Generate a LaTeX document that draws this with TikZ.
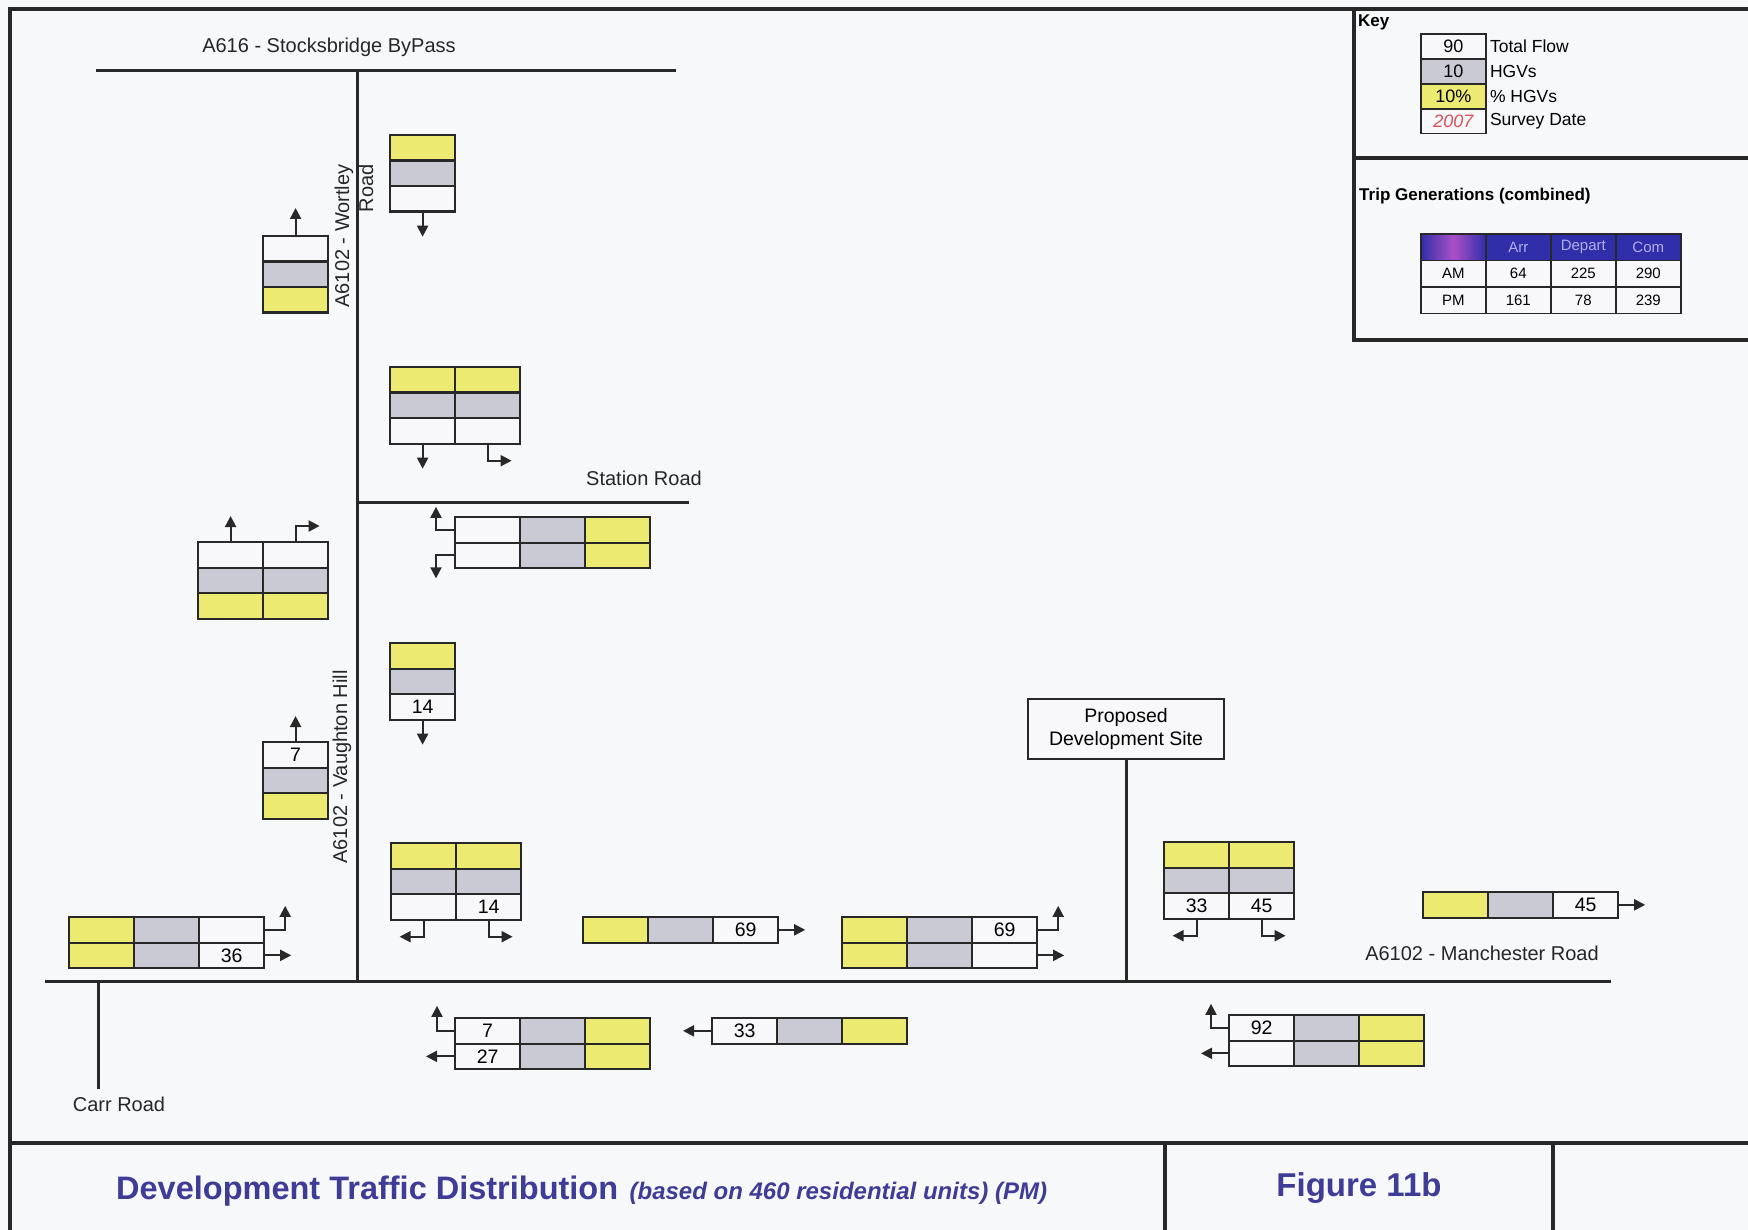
\documentclass[tikz,border=0pt]{standalone}
\usepackage{fontspec}
\setmainfont{Liberation Sans}
\usetikzlibrary{arrows.meta}
\definecolor{yel}{RGB}{236,234,112}
\definecolor{gry}{RGB}{202,202,212}
\definecolor{wht}{RGB}{248,248,250}
\definecolor{linec}{RGB}{40,40,40}
\definecolor{bg}{RGB}{247,248,250}
\definecolor{ttl}{RGB}{62,60,150}
\definecolor{hdr}{RGB}{48,46,168}
\definecolor{hdrtxt}{RGB}{175,175,235}
\definecolor{survey}{RGB}{215,80,90}
\tikzset{
 fcell/.style={draw=linec, line width=2.2pt, anchor=north west, minimum width=65pt, minimum height=25.5pt, inner sep=0pt, font=\fontsize{19.5}{22}\selectfont},
 kcell/.style={draw=linec, line width=1.8pt, anchor=north west, minimum width=65pt, minimum height=24.8pt, inner sep=0pt, font=\fontsize{18}{21}\selectfont},
 tcell/.style={draw=linec, line width=1.6pt, anchor=north west, minimum width=65pt, minimum height=26.6pt, inner sep=0pt, font=\fontsize{15}{17}\selectfont, fill=wht},
 arr/.style={draw=linec, line width=2pt, -{Triangle[length=11pt,width=11pt]}},
 road/.style={draw=linec, line width=3pt},
 frame/.style={draw=linec, line width=3.4pt},
 lbl/.style={font=\fontsize{20}{24}\selectfont, text=black!85, inner sep=0pt},
 klbl/.style={font=\fontsize{17.5}{21}\selectfont, anchor=west, inner sep=0pt, xshift=3pt},
}
\newcommand\fc[5]{\node[fcell,fill=#4] (#1) at (#2,#3) {#5};}
\begin{document}
\begin{tikzpicture}[x=1pt,y=-1pt]
\fill[bg] (0,0) rectangle (1748,1230);
\useasboundingbox (0,0) rectangle (1748,1230);
% frame
\draw[frame] (10,1230) -- (10,9) -- (1748,9);
\draw[frame] (10,1143) -- (1748,1143);
\draw[frame] (1165,1143) -- (1165,1230);
\draw[frame] (1553,1143) -- (1553,1230);
\draw[frame] (1354,9) -- (1354,340) -- (1748,340);
\draw[frame] (1354,158) -- (1748,158);
% roads
\draw[road] (96,71) -- (676,71);
\draw[road] (357,71) -- (357,981);
\draw[road] (357,502) -- (689,502);
\draw[road] (45,981) -- (1611,981);
\draw[road] (98,981) -- (98,1089);
\node[draw=linec, line width=1.8pt, fill=wht, minimum width=196pt, minimum height=60pt, align=center, inner sep=0pt, font=\fontsize{19.5}{23}\selectfont] (site) at (1126,729) {Proposed\\Development Site};
\draw[road] (site.south) -- (site.south |- 0,981);
% road labels
\node[lbl] (lA616) at (329,47) {A616 - Stocksbridge ByPass};
\node[lbl] (lstation) at (644,478) {Station Road};
\node[lbl] (lmanch) at (1482,953) {A6102 - Manchester Road};
\node[lbl] (lcarr) at (119,1104) {Carr Road};
\node[lbl, rotate=90, align=right, font=\fontsize{20}{24}\selectfont] (lwortley) at (354,236) {A6102 - Wortley\\Road};
\node[lbl, rotate=90] (lvaughton) at (342,767) {A6102 - Vaughton Hill};
% Box A
\fc{A1}{389}{134}{yel}{}
\fc{A2}{389}{159.5}{gry}{}
\fc{A3}{389}{185}{wht}{}
\draw[arr] (A3.south) -- ++(0,24);
% Box B
\fc{B1}{262}{235}{wht}{}
\fc{B2}{262}{260.5}{gry}{}
\fc{B3}{262}{286}{yel}{}
\draw[arr] (B1.north) -- ++(0,-27);
% Box C
\fc{C11}{389}{366}{yel}{} \fc{C12}{454}{366}{yel}{}
\fc{C21}{389}{391.5}{gry}{} \fc{C22}{454}{391.5}{gry}{}
\fc{C31}{389}{417}{wht}{} \fc{C32}{454}{417}{wht}{}
\draw[arr] (C31.south) -- ++(0,24);
\draw[arr] (C32.south) -- ++(0,16) -- ++(24,0);
% Box D
\fc{D11}{197}{541}{wht}{} \fc{D12}{262}{541}{wht}{}
\fc{D21}{197}{566.5}{gry}{} \fc{D22}{262}{566.5}{gry}{}
\fc{D31}{197}{592}{yel}{} \fc{D32}{262}{592}{yel}{}
\draw[arr] (D11.north) -- ++(0,-25);
\draw[arr] (D12.north) -- ++(0,-15) -- ++(24,0);
% Box E
\fc{E11}{454}{516}{wht}{} \fc{E12}{519}{516}{gry}{} \fc{E13}{584}{516}{yel}{}
\fc{E21}{454}{541.5}{wht}{} \fc{E22}{519}{541.5}{gry}{} \fc{E23}{584}{541.5}{yel}{}
\draw[arr] (E11.west) -- ++(-18,0) -- ++(0,-23);
\draw[arr] (E21.west) -- ++(-18,0) -- ++(0,23);
% Box F
\fc{F1}{389}{642}{yel}{} \fc{F2}{389}{667.5}{gry}{} \fc{F3}{389}{693}{wht}{14}
\draw[arr] (F3.south) -- ++(0,24);
% Box G
\fc{G1}{262}{741}{wht}{7} \fc{G2}{262}{766.5}{gry}{} \fc{G3}{262}{792}{yel}{}
\draw[arr] (G1.north) -- ++(0,-25);
% Box H
\fc{H11}{390}{842}{yel}{} \fc{H12}{455}{842}{yel}{}
\fc{H21}{390}{867.5}{gry}{} \fc{H22}{455}{867.5}{gry}{}
\fc{H31}{390}{893}{wht}{} \fc{H32}{455}{893}{wht}{14}
\draw[arr] (H31.south) -- ++(0,16) -- ++(-24,0);
\draw[arr] (H32.south) -- ++(0,16) -- ++(24,0);
% Box I
\fc{I11}{68}{916}{yel}{} \fc{I12}{133}{916}{gry}{} \fc{I13}{198}{916}{wht}{}
\fc{I21}{68}{941.5}{yel}{} \fc{I22}{133}{941.5}{gry}{} \fc{I23}{198}{941.5}{wht}{36}
\draw[arr] (I13.east) -- ++(20,0) -- ++(0,-24);
\draw[arr] (I23.east) -- ++(26,0);
% Box J
\fc{J1}{582}{916}{yel}{} \fc{J2}{647}{916}{gry}{} \fc{J3}{712}{916}{wht}{69}
\draw[arr] (J3.east) -- ++(26,0);
% Box K
\fc{K11}{841}{916}{yel}{} \fc{K12}{906}{916}{gry}{} \fc{K13}{971}{916}{wht}{69}
\fc{K21}{841}{941.5}{yel}{} \fc{K22}{906}{941.5}{gry}{} \fc{K23}{971}{941.5}{wht}{}
\draw[arr] (K13.east) -- ++(20,0) -- ++(0,-24);
\draw[arr] (K23.east) -- ++(26,0);
% Box L
\fc{L11}{1163}{841}{yel}{} \fc{L12}{1228}{841}{yel}{}
\fc{L21}{1163}{866.5}{gry}{} \fc{L22}{1228}{866.5}{gry}{}
\fc{L31}{1163}{892}{wht}{33} \fc{L32}{1228}{892}{wht}{45}
\draw[arr] (L31.south) -- ++(0,16) -- ++(-24,0);
\draw[arr] (L32.south) -- ++(0,16) -- ++(24,0);
% Box M
\fc{M1}{1422}{891}{yel}{} \fc{M2}{1487}{891}{gry}{} \fc{M3}{1552}{891}{wht}{45}
\draw[arr] (M3.east) -- ++(26,0);
% Box N
\fc{N11}{454}{1017}{wht}{7} \fc{N12}{519}{1017}{gry}{} \fc{N13}{584}{1017}{yel}{}
\fc{N21}{454}{1042.5}{wht}{27} \fc{N22}{519}{1042.5}{gry}{} \fc{N23}{584}{1042.5}{yel}{}
\draw[arr] (N11.west) -- ++(-17,0) -- ++(0,-25);
\draw[arr] (N21.west) -- ++(-28,0);
% Box O
\fc{O1}{711}{1017}{wht}{33} \fc{O2}{776}{1017}{gry}{} \fc{O3}{841}{1017}{yel}{}
\draw[arr] (O1.west) -- ++(-28,0);
% Box P
\fc{P11}{1228}{1014}{wht}{92} \fc{P12}{1293}{1014}{gry}{} \fc{P13}{1358}{1014}{yel}{}
\fc{P21}{1228}{1039.5}{wht}{} \fc{P22}{1293}{1039.5}{gry}{} \fc{P23}{1358}{1039.5}{yel}{}
\draw[arr] (P11.west) -- ++(-17,0) -- ++(0,-24);
\draw[arr] (P21.west) -- ++(-27,0);
% Key
\node[anchor=west, inner sep=0pt, font=\fontsize{17}{20}\bfseries] (key) at (1358,22) {Key};
\node[kcell, fill=wht] (k1) at (1420,33.4) {90};
\node[kcell, fill=gry] (k2) at (1420,58.2) {10};
\node[kcell, fill=yel] (k3) at (1420,83) {10\%};
\node[kcell, fill=wht, text=survey, font=\fontsize{18}{21}\itshape] (k4) at (1420,107.8) {2007};
\node[klbl] (k1l) at (k1.east) {Total Flow};
\node[klbl] (k2l) at (k2.east) {HGVs};
\node[klbl] (k3l) at (k3.east) {\% HGVs};
\node[klbl] (k4l) at (k4.east) {Survey Date};
\node[anchor=west, inner sep=0pt, font=\fontsize{17}{20}\bfseries] (trip) at (1359,196) {Trip Generations (combined)};
% table
\node[tcell, fill=hdr, left color=hdr, right color=hdr, middle color={rgb,255:red,170;green,80;blue,200}] (t00) at (1420,233) {};
\node[tcell, fill=hdr, text=hdrtxt] (t01) at (1485,233) {Arr};
\node[tcell, fill=hdr, text=hdrtxt] (t02) at (1550,233) {Depart};
\node[tcell, fill=hdr, text=hdrtxt] (t03) at (1615,233) {Com};
\node[tcell] (t10) at (1420,259.6) {AM};
\node[tcell] (t11) at (1485,259.6) {64};
\node[tcell] (t12) at (1550,259.6) {225};
\node[tcell] (t13) at (1615,259.6) {290};
\node[tcell] (t20) at (1420,286.2) {PM};
\node[tcell] (t21) at (1485,286.2) {161};
\node[tcell] (t22) at (1550,286.2) {78};
\node[tcell] (t23) at (1615,286.2) {239};
% title
\node[anchor=base west, inner sep=0pt, font=\fontsize{32.5}{38}\bfseries, text=ttl] (title) at (116,1199) {Development Traffic Distribution};
\node[anchor=base west, inner sep=0pt, font=\fontsize{24}{28}\bfseries\itshape, text=ttl] (sub) at ([xshift=11pt]title.base east) {(based on 460 residential units) (PM)};
\node[inner sep=0pt, font=\fontsize{33}{38}\bfseries, text=ttl] (fig) at (1359,1188) {Figure 11b};
\end{tikzpicture}
\end{document}
